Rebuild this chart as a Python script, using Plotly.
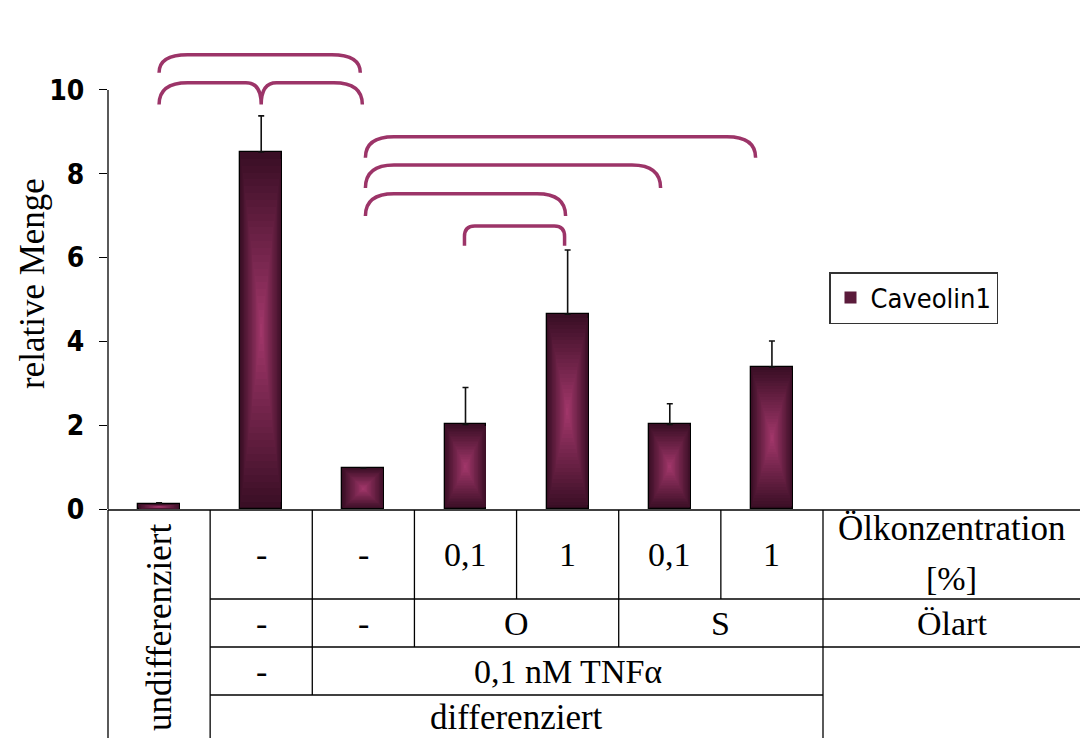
import plotly.graph_objects as go

# ---------------- data ----------------
CATEGORIES = [0, 1, 2, 3, 4, 5, 6]
VALUES = [0.11, 8.52, 0.98, 2.02, 4.65, 2.02, 3.39]
ERRORS = [0.04, 0.86, 0.0, 0.88, 1.53, 0.49, 0.62]
Y_TICKS = [0, 2, 4, 6, 8, 10]
SERIES_NAME = "Caveolin1"

ROW_CONC = {1: "-", 2: "-", 3: "0,1", 4: "1", 5: "0,1", 6: "1"}
ROW_OIL = [("-", 1, 1), ("-", 2, 2), ("O", 3, 4), ("S", 5, 6)]
ROW_TNF = [("-", 1, 1), ("0,1 nM TNFα", 2, 6)]
ROW_DIFF = [("differenziert", 1, 6)]
UNDIFF_LABEL = "undifferenziert"
ROW_LABELS = ["Ölkonzentration", "[%]", "Ölart"]
Y_TITLE = "relative Menge"

# significance brackets: (x_left, x_right, y_horizontal, y_end, cusp_x)
BRACKETS = [
    (0.0, 1.97, 10.84, 10.41, None),
    (0.0, 1.99, 10.17, 9.65, 1.0),
    (2.02, 5.84, 8.88, 8.38, None),
    (2.02, 4.91, 8.21, 7.66, None),
    (2.02, 3.98, 7.52, 6.99, None),
    (2.99, 3.97, 6.75, 6.28, None),
]

# ---------------- style ----------------
EDGE = (58, 14, 37)
CENTER = (160, 54, 105)
BAR_W = 0.41
N_LAYERS = 26
XMIN, XMAX = -0.5, 6.5
YMAX = 11.0
SERIF = "Liberation Serif, Times New Roman, serif"
NARROW = "Liberation Sans Narrow, Arial Narrow, DejaVu Sans Condensed, sans-serif"
BRACKET_COLOR = "#9c3468"


def lerp(a, b, t):
    return "rgb(%d,%d,%d)" % tuple(round(a[i] + (b[i] - a[i]) * t) for i in range(3))


fig = go.Figure()

# gradient bars: nested rectangles scaled around each bar's centre
for k in range(N_LAYERS):
    s = 1 - k / N_LAYERS
    t = k / (N_LAYERS - 1)
    outer = k == 0
    fig.add_trace(go.Bar(
        x=CATEGORIES,
        y=[v * s for v in VALUES],
        base=[v * (1 - s) / 2 for v in VALUES],
        width=BAR_W * s,
        marker=dict(color=lerp(EDGE, CENTER, t),
                    line=dict(color="black", width=1.3 if outer else 0)),
        error_y=dict(type="data", array=ERRORS, arrayminus=[0] * len(ERRORS),
                     symmetric=False, color="#111", thickness=1.6, width=3,
                     visible=outer),
        name=SERIES_NAME,
        showlegend=(k == 8),
        hoverinfo="skip" if not outer else None,
    ))

# brackets
for (x0, x1, yh, ye, cusp) in BRACKETS:
    small = (x1 - x0) < 1.2
    rx = 0.10 if small else 0.28
    ry = 0.25 if small else (yh - ye)
    p = f"M {x0},{ye} L {x0},{yh - ry} Q {x0},{yh} {x0 + rx},{yh} "
    if cusp is not None:
        cx = 0.15
        p += f"L {cusp - cx},{yh} Q {cusp},{yh} {cusp},{ye} Q {cusp},{yh} {cusp + cx},{yh} "
    p += f"L {x1 - rx},{yh} Q {x1},{yh} {x1},{yh - ry} L {x1},{ye}"
    fig.add_shape(type="path", path=p, xref="x", yref="y",
                  line=dict(color=BRACKET_COLOR, width=3.5))

# y axis line only up to the top tick
fig.add_shape(type="line", xref="paper", yref="y", x0=0, x1=0, y0=0, y1=max(Y_TICKS),
              line=dict(color="black", width=1.3))

# ---------------- table below the plot ----------------
def px_of(xd):
    return (xd - XMIN) / (XMAX - XMIN)

PLOT_TOP, PLOT_BOTTOM = 48, 509
PLOT_H = PLOT_BOTTOM - PLOT_TOP


def py(pix):
    return (PLOT_BOTTOM - pix) / PLOT_H

RIGHT = (1080 - 108) / 715
R0, R1, R2, R3, R4 = py(510), py(599), py(647), py(695), py(745)

hlines = [(px_of(-0.5), RIGHT, R0), (px_of(0.5), RIGHT, R1),
          (px_of(0.5), RIGHT, R2), (px_of(0.5), px_of(6.5), R3)]
vlines = [(-0.5, R0, R4), (0.5, R0, R4), (1.5, R0, R3), (2.5, R0, R2),
          (3.5, R0, R1), (4.5, R0, R2), (5.5, R0, R1), (6.5, R0, R4)]
for x0, x1, y in hlines:
    fig.add_shape(type="line", xref="paper", yref="paper", x0=x0, x1=x1, y0=y, y1=y,
                  line=dict(color="black", width=1.3))
for xd, y0, y1 in vlines:
    fig.add_shape(type="line", xref="paper", yref="paper", x0=px_of(xd), x1=px_of(xd),
                  y0=y0, y1=y1, line=dict(color="black", width=1.3))


def txt(text, xp, yp, angle=0, size=34):
    fig.add_annotation(text=text, x=xp, y=yp, xref="paper", yref="paper",
                       showarrow=False, textangle=angle, xanchor="center",
                       yanchor="middle", font=dict(family=SERIF, size=size, color="black"))

for c, t in ROW_CONC.items():
    txt(t, px_of(c), py(554))
for t, a, b in ROW_OIL:
    txt(t, px_of((a + b) / 2), py(623))
for t, a, b in ROW_TNF:
    txt(t, px_of((a + b) / 2), py(671))
for t, a, b in ROW_DIFF:
    txt(t, px_of((a + b) / 2), py(717), size=35)
txt(UNDIFF_LABEL, px_of(0), py(627), angle=-90, size=35)
LABEL_X = (951.5 - 108) / 715
txt(ROW_LABELS[0], LABEL_X, py(528), size=35)
txt(ROW_LABELS[1], LABEL_X, py(578))
txt(ROW_LABELS[2], LABEL_X, py(623))

# y-axis title
txt(Y_TITLE, (32 - 108) / 715, py(284), angle=-90, size=35)

fig.update_layout(
    width=1080, height=738,
    margin=dict(l=108, r=257, t=PLOT_TOP, b=738 - PLOT_BOTTOM, pad=0),
    paper_bgcolor="white", plot_bgcolor="white",
    barmode="overlay", bargap=0,
    showlegend=True,
    legend=dict(x=(829 - 108) / 715, y=py(272), xanchor="left", yanchor="top",
                bordercolor="#333", borderwidth=1.5, bgcolor="white",
                font=dict(family=NARROW, size=27, color="black"),
                itemwidth=30, tracegroupgap=0),
    xaxis=dict(range=[XMIN, XMAX], showline=False, showticklabels=False,
               ticks="", showgrid=False, zeroline=False, fixedrange=True),
    yaxis=dict(range=[0, YMAX], tickvals=Y_TICKS, ticks="outside", ticklen=8,
               tickcolor="black", tickwidth=1.2, showline=False,
               showgrid=False, zeroline=False,
               tickfont=dict(family=NARROW, size=28, color="black", weight="bold"),
               ticklabelstandoff=9),
)

fig.write_html("out.html")
